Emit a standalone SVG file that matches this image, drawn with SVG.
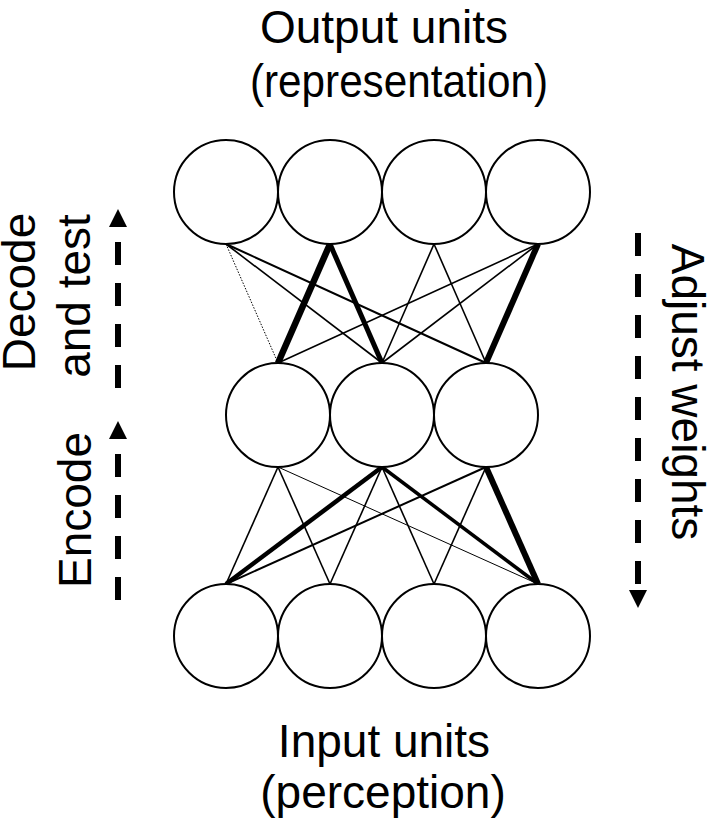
<svg xmlns="http://www.w3.org/2000/svg" width="709" height="818" viewBox="0 0 709 818">
<style>
.t{font-family:"Liberation Sans",Arial,sans-serif;font-size:46px;fill:#000}
.u{fill:#fff;stroke:#000;stroke-width:2}
.c{stroke:#000;stroke-linecap:butt;fill:none}
.d{stroke:#000;stroke-width:6;stroke-dasharray:23 18;fill:none}
.h{fill:#000}
</style>
<rect width="709" height="818" fill="#fff"/>
<g id="labels">
<text class="t" x="384" y="43" text-anchor="middle">Output units</text>
<text class="t" x="399" y="97" text-anchor="middle" textLength="298" lengthAdjust="spacingAndGlyphs">(representation)</text>
<text class="t" x="384" y="757" text-anchor="middle">Input units</text>
<text class="t" x="383" y="808" text-anchor="middle">(perception)</text>
<text class="t" transform="translate(35,292) rotate(-90)" text-anchor="middle">Decode</text>
<text class="t" transform="translate(90,296) rotate(-90)" text-anchor="middle">and test</text>
<text class="t" transform="translate(91,510) rotate(-90)" text-anchor="middle">Encode</text>
<text class="t" transform="translate(672,392) rotate(90)" text-anchor="middle">Adjust weights</text>
</g>
<g id="arrows">
<path class="d" d="M118,242 V388"/>
<polygon class="h" points="118,209 127,227 109,227"/>
<path class="d" d="M118,454 V600"/>
<polygon class="h" points="118,421 127,439 109,439"/>
<path class="d" d="M638,233 V584"/>
<polygon class="h" points="638,608 629,590 647,590"/>
</g>
<g id="connectors">
<line class="c" x1="226" y1="244" x2="278" y2="363" stroke-width="1" stroke-dasharray="1.5 1.5"/>
<line class="c" x1="226" y1="244" x2="382" y2="363" stroke-width="1.6"/>
<line class="c" x1="226" y1="244" x2="486" y2="363" stroke-width="2"/>
<line class="c" x1="330" y1="244" x2="278" y2="363" stroke-width="6.5"/>
<line class="c" x1="330" y1="244" x2="382" y2="363" stroke-width="5"/>
<line class="c" x1="434" y1="244" x2="382" y2="363" stroke-width="1.6"/>
<line class="c" x1="434" y1="244" x2="486" y2="363" stroke-width="1.6"/>
<line class="c" x1="538" y1="244" x2="278" y2="363" stroke-width="1.6"/>
<line class="c" x1="538" y1="244" x2="382" y2="363" stroke-width="1.6"/>
<line class="c" x1="538" y1="244" x2="486" y2="363" stroke-width="6"/>
<line class="c" x1="278" y1="467" x2="226" y2="584" stroke-width="1.6"/>
<line class="c" x1="278" y1="467" x2="330" y2="584" stroke-width="1.6"/>
<line class="c" x1="278" y1="467" x2="538" y2="584" stroke-width="1"/>
<line class="c" x1="382" y1="467" x2="226" y2="584" stroke-width="4.5"/>
<line class="c" x1="382" y1="467" x2="330" y2="584" stroke-width="1.6"/>
<line class="c" x1="382" y1="467" x2="434" y2="584" stroke-width="1.6"/>
<line class="c" x1="382" y1="467" x2="538" y2="584" stroke-width="3.5"/>
<line class="c" x1="486" y1="467" x2="226" y2="584" stroke-width="2"/>
<line class="c" x1="486" y1="467" x2="434" y2="584" stroke-width="1.6"/>
<line class="c" x1="486" y1="467" x2="538" y2="584" stroke-width="6"/>
</g>
<g id="out1"><circle class="u" cx="226" cy="192" r="52"/></g>
<g id="out2"><circle class="u" cx="330" cy="192" r="52"/></g>
<g id="out3"><circle class="u" cx="434" cy="192" r="52"/></g>
<g id="out4"><circle class="u" cx="538" cy="192" r="52"/></g>
<g id="hid1"><circle class="u" cx="278" cy="415" r="52"/></g>
<g id="hid2"><circle class="u" cx="382" cy="415" r="52"/></g>
<g id="hid3"><circle class="u" cx="486" cy="415" r="52"/></g>
<g id="in1"><circle class="u" cx="226" cy="636" r="52"/></g>
<g id="in2"><circle class="u" cx="330" cy="636" r="52"/></g>
<g id="in3"><circle class="u" cx="434" cy="636" r="52"/></g>
<g id="in4"><circle class="u" cx="538" cy="636" r="52"/></g>
</svg>
